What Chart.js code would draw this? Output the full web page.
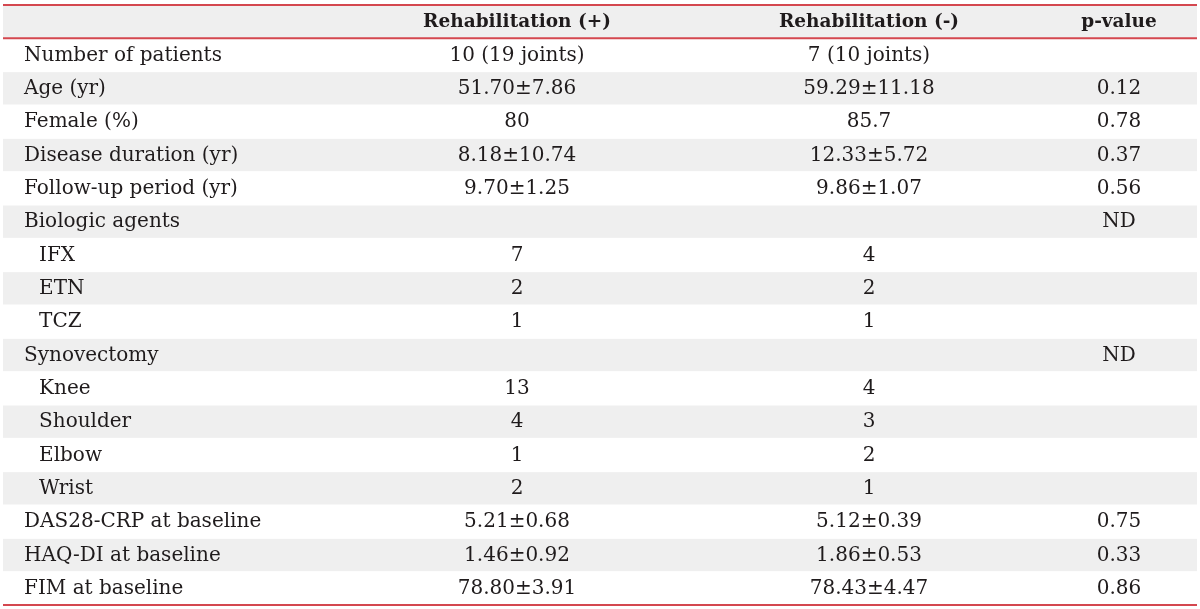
<!DOCTYPE html>
<html>
<head>
<meta charset="utf-8">
<script src="https://cdn.jsdelivr.net/npm/chart.js@4"></script>
<style>
  html, body { margin: 0; padding: 0; background: #fff; }
  #wrap { width: 1200px; height: 609px; position: relative; }
</style>
</head>
<body>
<div id="wrap"><canvas id="table"></canvas></div>
<script>
// Table contents
const columnHeaders = ['', 'Rehabilitation (+)', 'Rehabilitation (-)', 'p-value'];
const rowLabels = [
  'Number of patients', 'Age (yr)', 'Female (%)', 'Disease duration (yr)',
  'Follow-up period (yr)', 'Biologic agents', 'IFX', 'ETN', 'TCZ',
  'Synovectomy', 'Knee', 'Shoulder', 'Elbow', 'Wrist',
  'DAS28-CRP at baseline', 'HAQ-DI at baseline', 'FIM at baseline'
];
const subRows = ['IFX', 'ETN', 'TCZ', 'Knee', 'Shoulder', 'Elbow', 'Wrist'];
const rehabPlus = [
  '10 (19 joints)', '51.70±7.86', '80', '8.18±10.74', '9.70±1.25', '',
  '7', '2', '1', '', '13', '4', '1', '2', '5.21±0.68', '1.46±0.92', '78.80±3.91'
];
const rehabMinus = [
  '7 (10 joints)', '59.29±11.18', '85.7', '12.33±5.72', '9.86±1.07', '',
  '4', '2', '1', '', '4', '3', '2', '1', '5.12±0.39', '1.86±0.53', '78.43±4.47'
];
const pValues = [
  '', '0.12', '0.78', '0.37', '0.56', 'ND',
  '', '', '', 'ND', '', '', '', '', '0.75', '0.33', '0.86'
];

// column anchors, in % of table width
const colX = { label: 1.76, indent: 3.02, plus: 43.05, minus: 72.53, p: 93.47 };

const FONT = '"DejaVu Serif", "Liberation Serif", serif';
const TEXT = '#1f1b1c';
const GREY = '#efefef';
const RED = '#d4474f';

// plugin vẽ bảng theo trục của Chart.js
const tablePlugin = {
  id: 'tableDraw',
  beforeDraw(chart) {
    const { ctx, chartArea, scales: { x, y } } = chart;
    const band = y.height / y.getLabels().length;
    ctx.save();
    // nền xám: hàng tiêu đề + các hàng chẵn
    y.getLabels().forEach((lab, i) => {
      if (i % 2 === 0) {
        const cy = y.getPixelForValue(i);
        ctx.fillStyle = GREY;
        ctx.fillRect(chartArea.left, cy - band / 2 + 0.5, chartArea.width, band - 1);
      }
    });
    // đường đỏ
    ctx.strokeStyle = RED;
    ctx.lineWidth = 2;
    const lines = [y.top, y.getPixelForValue(0) + band / 2, y.bottom];
    lines.forEach(ly => {
      ctx.beginPath();
      ctx.moveTo(chartArea.left, ly);
      ctx.lineTo(chartArea.right, ly);
      ctx.stroke();
    });
    ctx.restore();
  },
  afterDraw(chart) {
    const { ctx, scales: { x, y } } = chart;
    ctx.save();
    ctx.fillStyle = TEXT;
    ctx.textBaseline = 'middle';
    // header
    const hy = y.getPixelForValue(0) + 0.5;
    ctx.font = 'bold 18.5px ' + FONT;
    ctx.textAlign = 'center';
    ctx.fillText(columnHeaders[1], x.getPixelForValue(colX.plus), hy);
    ctx.fillText(columnHeaders[2], x.getPixelForValue(colX.minus), hy);
    ctx.fillText(columnHeaders[3], x.getPixelForValue(colX.p), hy);
    // body
    ctx.font = '20px ' + FONT;
    rowLabels.forEach((lab, i) => {
      const cy = y.getPixelForValue(i + 1) + 0.5;
      ctx.textAlign = 'left';
      const lx = subRows.includes(lab) ? colX.indent : colX.label;
      ctx.fillText(lab, x.getPixelForValue(lx), cy);
      ctx.textAlign = 'center';
      ctx.fillText(rehabPlus[i], x.getPixelForValue(colX.plus), cy);
      ctx.fillText(rehabMinus[i], x.getPixelForValue(colX.minus), cy);
      ctx.fillText(pValues[i], x.getPixelForValue(colX.p), cy);
    });
    ctx.restore();
  }
};

new Chart(document.getElementById('table'), {
  type: 'scatter',
  data: { datasets: [] },
  options: {
    responsive: true,
    maintainAspectRatio: false,
    animation: false,
    layout: { padding: { left: 3, right: 3, top: 5, bottom: 4 } },
    plugins: { legend: { display: false }, tooltip: { enabled: false } },
    scales: {
      x: { type: 'linear', min: 0, max: 100, display: false },
      y: {
        type: 'category',
        labels: ['header'].concat(rowLabels),
        offset: true,
        display: false
      }
    }
  },
  plugins: [tablePlugin]
});
</script>
</body>
</html>
